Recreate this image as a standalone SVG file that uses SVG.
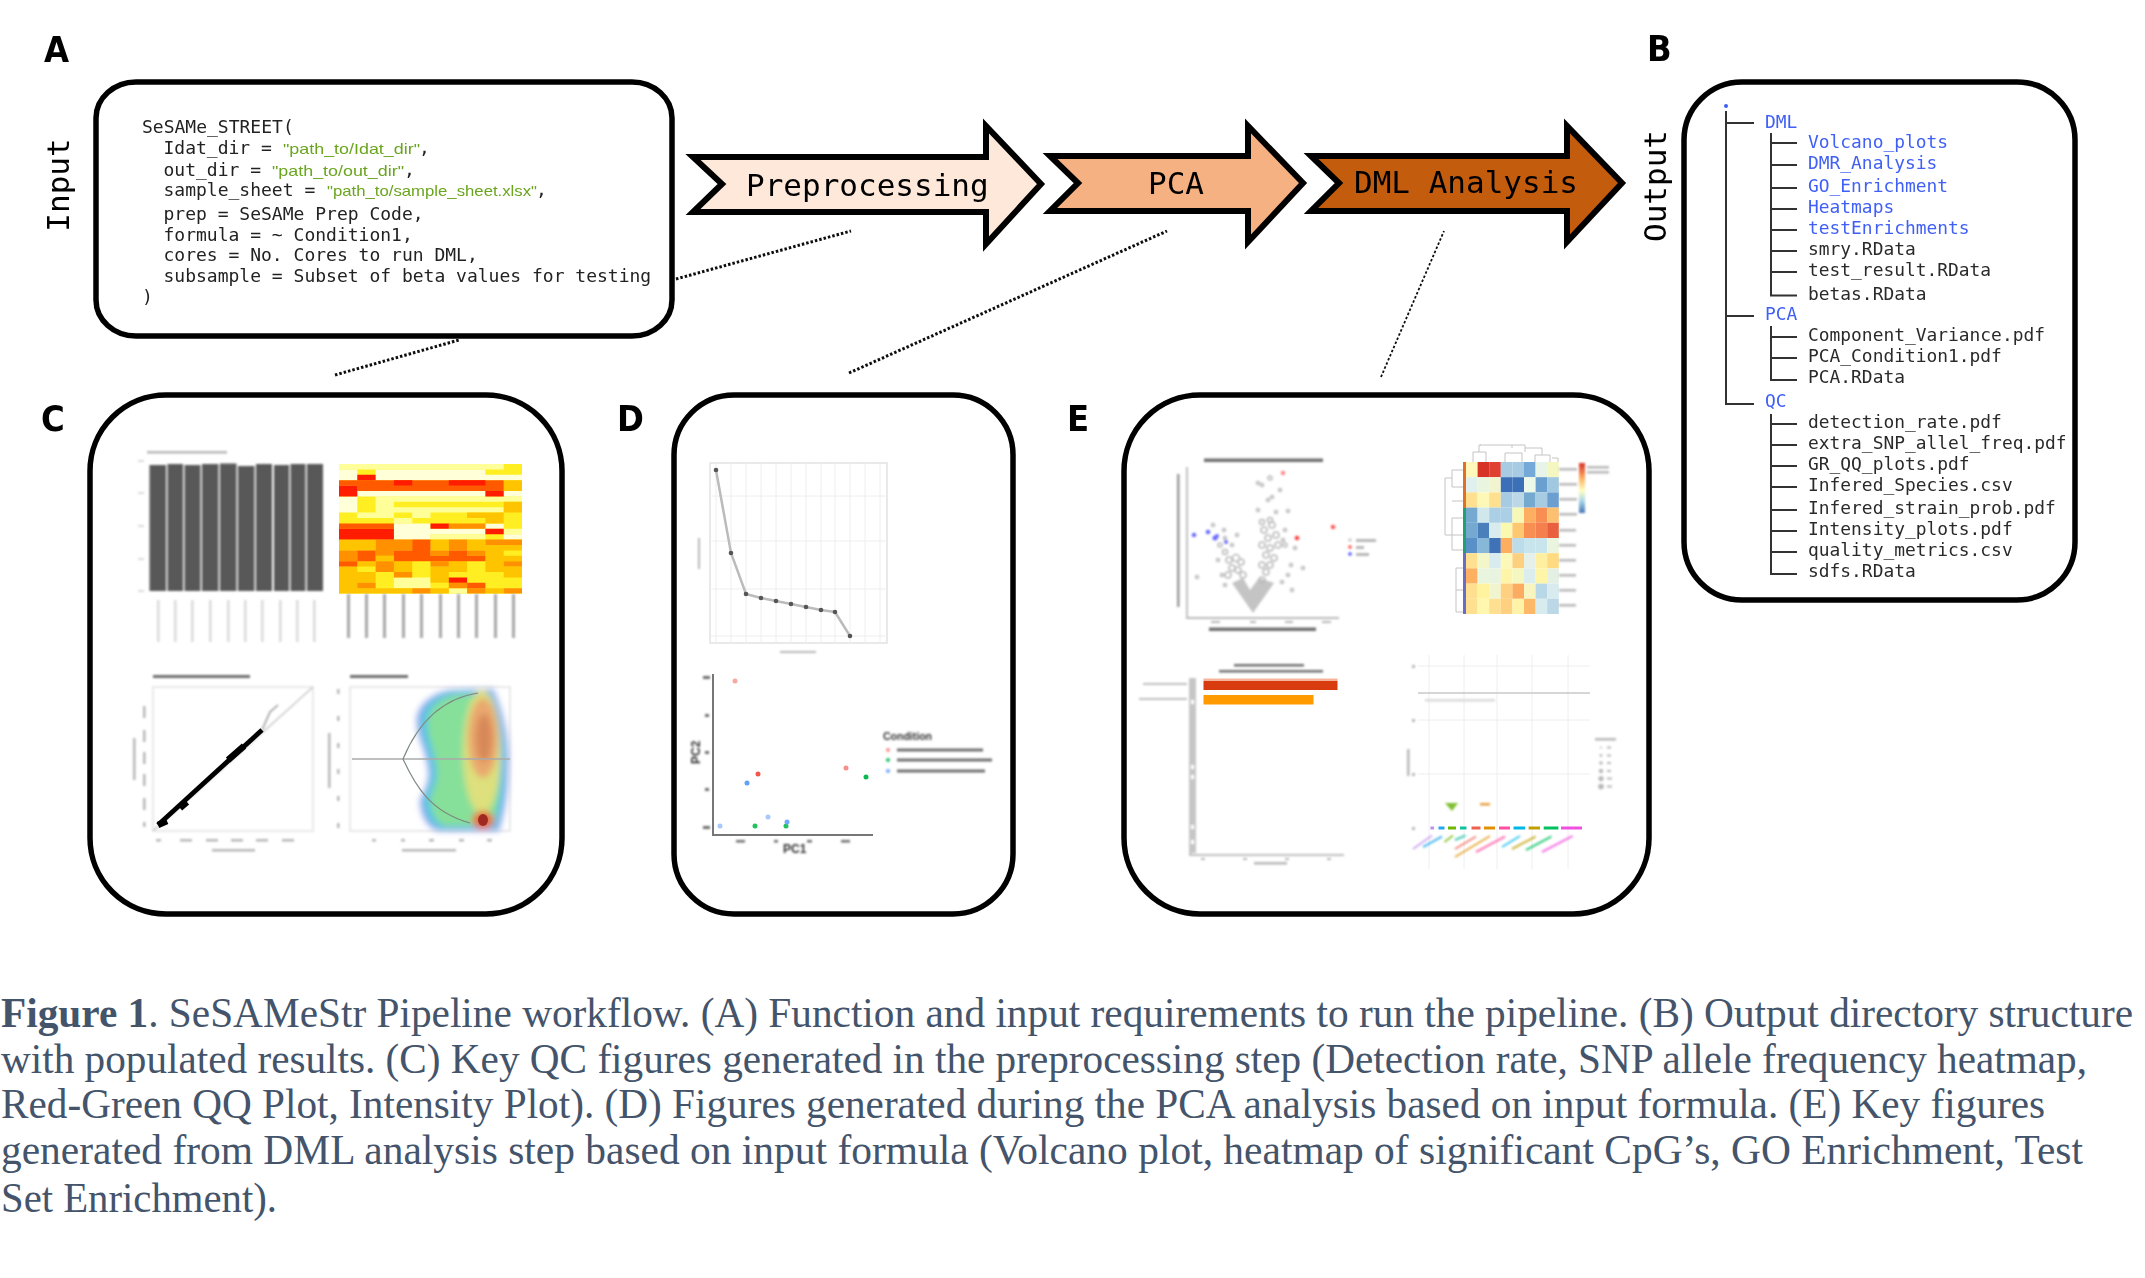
<svg xmlns="http://www.w3.org/2000/svg" xmlns:xlink="http://www.w3.org/1999/xlink" width="2145" height="1278" viewBox="0 0 2145 1278">
<style>
.box{fill:#fff;stroke:#000;stroke-width:5.5}
.arrow{stroke:#000;stroke-width:6;stroke-miterlimit:10}
.mono{font-family:"DejaVu Sans Mono","Liberation Mono",monospace}
.code{font-size:18px;fill:#222}
.green{font-family:"Liberation Sans",Arial,sans-serif;font-size:14.5px;fill:#6aa51f}
.tree{font-size:17.9px;fill:#2a2a2a}
.dir{font-size:17.9px;fill:#3f5ff5}
.big{font-size:31px;fill:#000}
.panel{font-family:"DejaVu Sans Condensed","DejaVu Sans",sans-serif;font-weight:bold;font-size:36px;fill:#000}
.cap{font-family:"Liberation Serif","Times New Roman",serif;font-size:42px;fill:#44546a}
.dash{fill:none;stroke:#111;stroke-width:3;stroke-dasharray:2.5 2}
.lg{fill:#b8b8b8}.ld{fill:#707070}.ll{fill:#dadada}
.grid{stroke:#eee;stroke-width:1;fill:none}
.frame{fill:none;stroke:#e2e2e2;stroke-width:1.5}
.sans{font-family:"Liberation Sans",Arial,sans-serif;fill:#333}
.vd{fill:none;stroke:#bbb;stroke-width:1.6}
</style>
<defs>
<filter id="b1" filterUnits="userSpaceOnUse" x="0" y="0" width="2145" height="1278"><feGaussianBlur stdDeviation="0.7"/></filter>
<filter id="b2" filterUnits="userSpaceOnUse" x="0" y="0" width="2145" height="1278"><feGaussianBlur stdDeviation="1.3"/></filter>
<filter id="b3" filterUnits="userSpaceOnUse" x="0" y="0" width="2145" height="1278"><feGaussianBlur stdDeviation="3"/></filter>
<linearGradient id="cb" x1="0" y1="0" x2="0" y2="1"><stop offset="0" stop-color="#d73027"/><stop offset=".3" stop-color="#fdae61"/><stop offset=".55" stop-color="#ffffbf"/><stop offset=".75" stop-color="#abd9e9"/><stop offset="1" stop-color="#4575b4"/></linearGradient>
<path id="dens" d="M417 717C420 700 440 690 455 690L493 689C503 710 510 740 508 770C508 800 502 820 499 831L440 831C428 830 420 815 420 800C425 790 430 780 428 769C425 745 415 735 417 717Z"/>
</defs>
<rect width="2145" height="1278" fill="#fff"/>

<g id="connectors" filter="url(#b1)">
<line class="dash" x1="676" y1="279" x2="851" y2="231"/>
<line class="dash" x1="335" y1="375" x2="459" y2="340"/>
<line class="dash" x1="849" y1="373" x2="1167" y2="231"/>
<line class="dash" style="stroke-width:1.8" x1="1381" y1="377" x2="1444" y2="231"/>
</g>

<g id="panel-labels" filter="url(#b1)">
<text class="panel" x="44" y="62">A</text>
<text class="panel" x="1647" y="61">B</text>
<text class="panel" x="41" y="431">C</text>
<text class="panel" x="617" y="431">D</text>
<text class="panel" x="1067" y="431">E</text>
<text class="mono big" transform="translate(69,185) rotate(-90)" text-anchor="middle">Input</text>
<text class="mono big" transform="translate(1666,186) rotate(-90)" text-anchor="middle">Output</text>
</g>

<g id="node-input" filter="url(#b1)">
<rect class="box" x="96" y="82" width="576" height="254" rx="40" ry="36"/>
<text class="mono code" x="142" y="133">SeSAMe_STREET(</text>
<text class="mono code" x="163.5" y="154">Idat_dir = </text><text class="green" x="283" y="154" textLength="137" lengthAdjust="spacingAndGlyphs">"path_to/Idat_dir"</text><text class="mono code" x="419" y="154">,</text>
<text class="mono code" x="163.5" y="176">out_dir = </text><text class="green" x="272" y="176" textLength="132" lengthAdjust="spacingAndGlyphs">"path_to/out_dir"</text><text class="mono code" x="404" y="176">,</text>
<text class="mono code" x="163.5" y="196">sample_sheet = </text><text class="green" x="327" y="196" textLength="210" lengthAdjust="spacingAndGlyphs">"path_to/sample_sheet.xlsx"</text><text class="mono code" x="536" y="196">,</text>
<text class="mono code" x="163.5" y="220">prep = SeSAMe Prep Code,</text>
<text class="mono code" x="163.5" y="241">formula = ~ Condition1,</text>
<text class="mono code" x="163.5" y="261">cores = No. Cores to run DML,</text>
<text class="mono code" x="163.5" y="282">subsample = Subset of beta values for testing</text>
<text class="mono code" x="142" y="303">)</text>
</g>

<g id="node-preprocessing" filter="url(#b1)">
<path class="arrow" fill="#fde8da" d="M693 157H986V126L1041 184L986 244V212H693L722 184Z"/>
<text class="mono big" x="746" y="196">Preprocessing</text>
</g>
<g id="node-pca" filter="url(#b1)">
<path class="arrow" fill="#f5b182" d="M1050 156H1248V126L1303 183L1248 242V211H1050L1078 183Z"/>
<text class="mono big" x="1148" y="194">PCA</text>
</g>
<g id="node-dml" filter="url(#b1)">
<path class="arrow" fill="#c45c10" d="M1311 156H1567V126L1622 183L1567 242V211H1311L1339 183Z"/>
<text class="mono big" x="1354" y="193">DML Analysis</text>
</g>

<g id="node-output" filter="url(#b1)">
<rect class="box" x="1684" y="82" width="391" height="518" rx="58" ry="58"/>
<circle cx="1726" cy="106" r="2" fill="#3f5ff5"/>
<path fill="none" stroke="#333" stroke-width="2" d="M1726 111V404H1754M1726 123H1754M1726 316H1754M1771 133V295.500H1797M1771 143H1797M1771 165H1797M1771 188H1797M1771 209H1797M1771 230H1797M1771 251H1797M1771 272H1797M1771 326V380H1797M1771 337H1797M1771 358H1797M1771 414V574H1797M1771 424H1797M1771 445H1797M1771 466H1797M1771 487H1797M1771 510H1797M1771 531H1797M1771 552H1797"/>
<text class="mono dir" x="1765" y="128">DML</text>
<text class="mono dir" x="1808" y="148">Volcano_plots</text>
<text class="mono dir" x="1808" y="169">DMR_Analysis</text>
<text class="mono dir" x="1808" y="192">GO_Enrichment</text>
<text class="mono dir" x="1808" y="213">Heatmaps</text>
<text class="mono dir" x="1808" y="234">testEnrichments</text>
<text class="mono tree" x="1808" y="255">smry.RData</text>
<text class="mono tree" x="1808" y="276">test_result.RData</text>
<text class="mono tree" x="1808" y="300">betas.RData</text>
<text class="mono dir" x="1765" y="320">PCA</text>
<text class="mono tree" x="1808" y="341">Component_Variance.pdf</text>
<text class="mono tree" x="1808" y="362">PCA_Condition1.pdf</text>
<text class="mono tree" x="1808" y="383">PCA.RData</text>
<text class="mono dir" x="1765" y="407">QC</text>
<text class="mono tree" x="1808" y="428">detection_rate.pdf</text>
<text class="mono tree" x="1808" y="449">extra_SNP_allel_freq.pdf</text>
<text class="mono tree" x="1808" y="470">GR_QQ_plots.pdf</text>
<text class="mono tree" x="1808" y="491">Infered_Species.csv</text>
<text class="mono tree" x="1808" y="514">Infered_strain_prob.pdf</text>
<text class="mono tree" x="1808" y="535">Intensity_plots.pdf</text>
<text class="mono tree" x="1808" y="556">quality_metrics.csv</text>
<text class="mono tree" x="1808" y="577">sdfs.RData</text>
</g>

<g id="node-preprocessing-figures">
<rect class="box" x="90" y="395" width="472" height="519" rx="76" ry="76" filter="url(#b1)"/>
<g filter="url(#b2)">
<rect class="lg" x="147" y="451" width="80" height="2.500"/>
<rect class="ll" x="138" y="460" width="6" height="2"/><rect class="ll" x="138" y="492" width="6" height="2"/><rect class="ll" x="138" y="525" width="6" height="2"/><rect class="ll" x="138" y="558" width="6" height="2"/><rect class="ll" x="138" y="590" width="6" height="2"/>
<g fill="#595959">
<rect x="149.500" y="465" width="16.500" height="126"/><rect x="167.500" y="464" width="15.500" height="127"/><rect x="184.500" y="465" width="16" height="126"/><rect x="202" y="464" width="16.500" height="127"/><rect x="220" y="463.500" width="16.500" height="127.500"/><rect x="238" y="466" width="16.500" height="125"/><rect x="256" y="464" width="16" height="127"/><rect x="274" y="465" width="15" height="126"/><rect x="290.500" y="464" width="15" height="127"/><rect x="307" y="464" width="16" height="127"/>
</g>
<g class="ll">
<rect x="157" y="600" width="2.500" height="42"/><rect x="174" y="600" width="2.500" height="42"/><rect x="191" y="600" width="2.500" height="42"/><rect x="209" y="600" width="2.500" height="42"/><rect x="227" y="600" width="2.500" height="42"/><rect x="244" y="600" width="2.500" height="42"/><rect x="261" y="600" width="2.500" height="42"/><rect x="279" y="600" width="2.500" height="42"/><rect x="296" y="600" width="2.500" height="42"/><rect x="313" y="600" width="2.500" height="42"/>
</g>
</g>
<g filter="url(#b1)">
<g transform="translate(339,464) scale(18.3,5.4)">
<rect width="10" height="24" fill="#ffef20"/>
<path fill="#ffff99" d="M0 0h9v1h-9zM2 6h8v1h-8zM2 7h1v1h-1zM2 8h7v1h-7zM1 9h2v1h-2zM4 9h1v1h-1zM3 10h1v1h-1zM5 13h3v1h-3zM9 12h1v1h-1zM3 21h2v1h-2zM3 22h2v1h-2zM6 23h1v1h-1z"/>
<path fill="#ffffd8" d="M0 1h1v1h-1zM2 1h6v1h-6zM0 2h1v1h-1zM2 2h8v1h-8zM1 5h7v1h-7zM9 5h1v1h-1zM0 6h1v2h-1zM0 8h1v1h-1zM3 11h2v1h-2zM8 11h1v1h-1zM3 12h5v1h-5zM3 13h2v1h-2zM9 13h1v1h-1z"/>
<path fill="#ffc400" d="M9 3h1v2h-1zM9 7h1v2h-1zM7 9h2v1h-2zM8 10h1v1h-1zM0 14h2v2h-2zM5 14h1v2h-1zM7 14h1v2h-1zM8 15h2v1h-2zM8 16h1v1h-1zM2 17h1v1h-1zM8 17h2v1h-2zM1 18h1v1h-1zM3 18h1v1h-1zM6 18h1v1h-1zM8 18h1v1h-1zM0 19h1v1h-1zM3 19h1v1h-1zM5 19h2v1h-2zM8 19h2v1h-2zM0 20h2v1h-2zM5 20h1v1h-1zM9 20h1v1h-1zM0 21h2v1h-2zM5 21h1v1h-1zM0 22h1v1h-1zM0 23h4v1h-4zM5 23h1v1h-1zM8 23h1v1h-1z"/>
<path fill="#ff9000" d="M6 11h2v1h-2zM2 14h2v2h-2zM6 14h1v2h-1zM8 14h2v1h-2zM0 16h1v2h-1zM2 16h1v1h-1zM5 16h1v1h-1zM7 16h1v1h-1zM2 18h1v2h-1zM5 18h1v1h-1zM9 18h1v1h-1zM3 20h1v1h-1zM1 22h1v1h-1zM6 22h1v1h-1zM4 23h1v1h-1zM7 23h1v1h-1zM9 23h1v1h-1z"/>
<path fill="#ff5a00" d="M0 3h9v1h-9zM1 4h8v1h-8zM0 11h3v1h-3zM4 14h1v2h-1zM1 16h1v2h-1zM3 16h2v1h-2zM6 16h1v1h-1zM3 17h5v1h-5zM0 18h1v1h-1zM7 22h1v1h-1z"/>
<path fill="#ff1a00" d="M1 2h1v1h-1zM3 3h1v1h-1zM6 3h2v1h-2zM0 4h1v2h-1zM8 5h1v1h-1zM5 11h1v1h-1zM0 12h3v2h-3zM8 12h1v1h-1zM6 21h1v1h-1z"/>
</g>
</g>
<g filter="url(#b2)">
<g fill="#a8a8a8"><rect x="347" y="594" width="3" height="44"/><rect x="365" y="594" width="3" height="44"/><rect x="383" y="594" width="3" height="44"/><rect x="402" y="594" width="3" height="44"/><rect x="420" y="594" width="3" height="44"/><rect x="439" y="594" width="3" height="44"/><rect x="457" y="594" width="3" height="44"/><rect x="475" y="594" width="3" height="44"/><rect x="494" y="594" width="3" height="44"/><rect x="512" y="594" width="3" height="44"/></g>
<rect class="ld" x="153" y="675" width="97" height="3"/>
<rect class="frame" x="153" y="687" width="160" height="144"/>
<line x1="153" y1="831" x2="313" y2="687" stroke="#c8c8c8" stroke-width="1.500"/>
<path d="M262 730L270 712L278 705" stroke="#999" stroke-width="1.500" fill="none"/>
<g class="lg"><rect x="156" y="839" width="5" height="2.500"/><rect x="180" y="839" width="12" height="2.500"/><rect x="206" y="839" width="12" height="2.500"/><rect x="231" y="839" width="12" height="2.500"/><rect x="256" y="839" width="12" height="2.500"/><rect x="282" y="839" width="12" height="2.500"/>
<rect x="212" y="849" width="43" height="2.500"/><rect x="133" y="738" width="2.500" height="42"/>
<rect x="143" y="706" width="2.500" height="12"/><rect x="143" y="730" width="2.500" height="12"/><rect x="143" y="752" width="2.500" height="12"/><rect x="143" y="774" width="2.500" height="12"/><rect x="143" y="798" width="2.500" height="12"/><rect x="143" y="822" width="2.500" height="5"/></g>
<rect class="ld" x="350" y="675" width="58" height="3"/>
<rect class="frame" x="350" y="687" width="160" height="144"/>
</g>
<g filter="url(#b1)">
<path d="M158 825L262 730" stroke="#000" stroke-width="4.800" fill="none"/>
<path d="M158 825L167 821M180 808L187 802M228 760L244 746" stroke="#000" stroke-width="6.500" fill="none"/>
</g>
<g filter="url(#b3)">
<use href="#dens" fill="#939feb"/>
<use href="#dens" fill="#58c6e4" transform="translate(465 760) scale(.93 .97) translate(-465 -760)"/>
<use href="#dens" fill="#86e09a" transform="translate(470 760) scale(.8 .93) translate(-470 -760)"/>
<ellipse cx="482" cy="752" rx="19" ry="62" fill="#dde07c"/>
<ellipse cx="483" cy="738" rx="15" ry="40" fill="#e9a86e"/>
<ellipse cx="484" cy="738" rx="8" ry="24" fill="#d88858"/>
<ellipse cx="483" cy="820" rx="11" ry="9" fill="#e8703c"/>
</g>
<g filter="url(#b1)">
<ellipse cx="483" cy="820" rx="5" ry="6" fill="#a02c20"/>
<line x1="352" y1="759" x2="510" y2="759" stroke="#aaa" stroke-width="1.500"/>
<path d="M478 693C445 698 420 718 403 759C415 785 430 812 470 823" fill="none" stroke="#7d8a80" stroke-width="1.200"/>
</g>
<g class="lg" filter="url(#b2)"><rect x="337" y="689" width="2.500" height="5"/><rect x="337" y="716" width="2.500" height="5"/><rect x="337" y="743" width="2.500" height="5"/><rect x="337" y="769" width="2.500" height="5"/><rect x="337" y="796" width="2.500" height="5"/><rect x="337" y="823" width="2.500" height="5"/>
<rect x="372" y="839" width="4" height="2.500"/><rect x="401" y="839" width="4" height="2.500"/><rect x="429" y="839" width="5" height="2.500"/><rect x="459" y="839" width="5" height="2.500"/><rect x="487" y="839" width="5" height="2.500"/>
<rect x="402" y="849" width="54" height="2.500"/><rect x="328" y="733" width="2.500" height="55"/></g>
</g>

<g id="node-pca-figures">
<rect class="box" x="674" y="395" width="339" height="519" rx="60" ry="60" filter="url(#b1)"/>
<g filter="url(#b1)">
<rect class="frame" x="710" y="463" width="177" height="180"/>
<path class="grid" d="M716 463V643M731 463V643M746 463V643M761 463V643M776 463V643M791 463V643M806 463V643M821 463V643M835 463V643M850 463V643M865 463V643M880 463V643M710 496H887M710 541H887M710 589H887M710 636H887"/>
<polyline points="716,470 731,553 746,594 761,598 776,601 791,604 806,607 821,610 835,612 850,636" fill="none" stroke="#bbb" stroke-width="2.500"/>
<g fill="#555"><circle cx="716" cy="470" r="2.300"/><circle cx="731" cy="553" r="2.300"/><circle cx="746" cy="594" r="2.300"/><circle cx="761" cy="598" r="2.300"/><circle cx="776" cy="601" r="2.300"/><circle cx="791" cy="604" r="2.300"/><circle cx="806" cy="607" r="2.300"/><circle cx="821" cy="610" r="2.300"/><circle cx="835" cy="612" r="2.300"/><circle cx="850" cy="636" r="2.300"/></g>
<path d="M713 674V835H873" fill="none" stroke="#777" stroke-width="2"/>
<g><circle cx="735" cy="681" r="2.500" fill="#f8a8a0"/><circle cx="758" cy="774" r="2.500" fill="#f0584c"/><circle cx="846" cy="768" r="2.500" fill="#f8908a"/><circle cx="866" cy="777" r="2.500" fill="#10b850"/><circle cx="755" cy="826" r="2.500" fill="#20c060"/><circle cx="786" cy="826" r="2.500" fill="#20c060"/><circle cx="747" cy="783" r="2.500" fill="#60a0ff"/><circle cx="720" cy="826" r="2.500" fill="#a8c8ff"/><circle cx="768" cy="817" r="2.500" fill="#a8c8ff"/><circle cx="787" cy="822" r="2.500" fill="#70a8ff"/></g>
</g>
<g filter="url(#b2)">
<rect class="lg" x="780" y="651" width="36" height="2"/><rect class="lg" x="698" y="538" width="2" height="31"/>
<text class="sans" x="883" y="740" font-size="10.500" font-weight="bold">Condition</text>
<text class="sans" x="783" y="853" font-size="12" font-weight="bold">PC1</text>
<text class="sans" font-size="12" font-weight="bold" transform="translate(700,764) rotate(-90)">PC2</text>
<g class="ld"><rect x="897" y="748.500" width="86" height="3"/><rect x="897" y="758.500" width="95" height="3"/><rect x="897" y="769.500" width="88" height="3"/>
<rect x="703" y="676" width="7" height="3"/><rect x="705" y="714" width="4" height="3"/><rect x="705" y="751" width="4" height="3"/><rect x="705" y="788" width="4" height="3"/><rect x="703" y="826" width="7" height="3"/><rect x="736" y="840" width="9" height="2.500"/><rect x="774" y="840" width="4" height="2.500"/><rect x="807" y="840" width="5" height="2.500"/><rect x="841" y="840" width="9" height="2.500"/></g>
<circle cx="888" cy="750" r="2" fill="#f8908a"/><circle cx="888" cy="760" r="2" fill="#20c060"/><circle cx="888" cy="771" r="2" fill="#70a8ff"/>
</g>
</g>

<g id="node-dml-figures">
<rect class="box" x="1124" y="395" width="525" height="519" rx="76" ry="76" filter="url(#b1)"/>
<g filter="url(#b2)">
<rect class="ld" x="1204" y="458.500" width="119" height="3.500"/>
<rect class="ld" x="1209" y="627.500" width="107" height="3.500"/>
<rect x="1177" y="474" width="2.500" height="133" fill="#999"/>
<path d="M1187 467V618H1339" fill="none" stroke="#bbb" stroke-width="1.800"/>
<path fill="#c4c4c4" d="M1232 583L1253 613L1274 583L1259 578L1250 590L1243 578Z"/>
<g class="vd" stroke-width="2.200">
<circle cx="1228" cy="575" r="3"/><circle cx="1232" cy="568" r="3"/><circle cx="1238" cy="570" r="3"/><circle cx="1241" cy="562" r="3"/><circle cx="1236" cy="558" r="3.500"/><circle cx="1229" cy="560" r="3"/><circle cx="1225" cy="552" r="2.500"/><circle cx="1220" cy="545" r="2"/><circle cx="1243" cy="575" r="3"/><circle cx="1262" cy="580" r="3"/><circle cx="1266" cy="572" r="3"/><circle cx="1270" cy="565" r="3"/><circle cx="1262" cy="565" r="3"/><circle cx="1274" cy="558" r="3"/><circle cx="1266" cy="555" r="3"/><circle cx="1270" cy="548" r="3"/><circle cx="1278" cy="545" r="3"/><circle cx="1262" cy="545" r="3"/><circle cx="1268" cy="538" r="3"/><circle cx="1276" cy="535" r="3"/><circle cx="1264" cy="530" r="3"/><circle cx="1272" cy="525" r="3"/><circle cx="1262" cy="522" r="2.500"/><circle cx="1270" cy="520" r="2.500"/>
</g>
<g class="vd">
<circle cx="1218" cy="560" r="1.500"/><circle cx="1222" cy="575" r="1.500"/><circle cx="1225" cy="585" r="1.500"/><circle cx="1232" cy="545" r="1.500"/><circle cx="1213" cy="525" r="1.500"/><circle cx="1224" cy="530" r="1.500"/><circle cx="1197" cy="577" r="1.500"/><circle cx="1292" cy="590" r="1.500"/><circle cx="1303" cy="568" r="1.500"/><circle cx="1291" cy="565" r="1.500"/><circle cx="1288" cy="575" r="1.500"/><circle cx="1282" cy="582" r="1.500"/><circle cx="1285" cy="545" r="2"/><circle cx="1283" cy="540" r="1.500"/><circle cx="1285" cy="530" r="1.500"/><circle cx="1258" cy="510" r="1.500"/><circle cx="1262" cy="485" r="1.500"/><circle cx="1270" cy="478" r="2"/><circle cx="1258" cy="483" r="1.500"/><circle cx="1272" cy="497" r="1.500"/><circle cx="1280" cy="490" r="1.500"/><circle cx="1268" cy="500" r="1.500"/><circle cx="1276" cy="512" r="1.500"/><circle cx="1288" cy="511" r="1.500"/><circle cx="1295" cy="548" r="1.500"/><circle cx="1237" cy="535" r="1.500"/><circle cx="1225" cy="538" r="1.500"/>
</g>
<circle cx="1283" cy="473" r="2.300" fill="#ff8a8a"/><circle cx="1333" cy="527" r="2.300" fill="#ff5a5a"/><circle cx="1297" cy="538" r="2.300" fill="#ff4040"/>
<g fill="#6a6aff"><circle cx="1194" cy="535" r="2.300"/><circle cx="1208" cy="532" r="2.300"/><circle cx="1215" cy="538" r="2.500"/><circle cx="1217" cy="536" r="2"/><circle cx="1226" cy="542" r="2"/></g>
<circle cx="1350" cy="540" r="1.800" fill="#ccc"/><circle cx="1350" cy="547" r="1.800" fill="#ff5050"/><circle cx="1350" cy="554" r="1.800" fill="#5050ff"/>
<g class="lg"><rect x="1356" y="539" width="20" height="3"/><rect x="1356" y="546" width="8" height="3"/><rect x="1356" y="553" width="13" height="3"/>
<rect x="1211" y="621" width="9" height="2"/><rect x="1250" y="621" width="6" height="2"/><rect x="1285" y="621" width="8" height="2"/><rect x="1322" y="621" width="9" height="2"/></g>
</g>
<g filter="url(#b1)">
<rect x="1463" y="462" width="3" height="46" fill="#e07020"/><rect x="1463" y="508" width="3" height="45" fill="#20a070"/><rect x="1463" y="553" width="3" height="61" fill="#6a6ac8"/>
<g transform="translate(1466,462) scale(11.6,15.2)">
<rect x="0" y="0" width="1" height="1" fill="#fff7bc"/><rect x="1" y="0" width="1" height="1" fill="#d73027"/><rect x="2" y="0" width="1" height="1" fill="#e04030"/><rect x="3" y="0" width="1" height="1" fill="#a6cbe3"/><rect x="4" y="0" width="1" height="1" fill="#a6cbe3"/><rect x="5" y="0" width="1" height="1" fill="#74a9d8"/><rect x="6" y="0" width="1" height="1" fill="#e8f4e8"/><rect x="7" y="0" width="1" height="1" fill="#f5f7c0"/>
<rect x="0" y="1" width="1" height="1" fill="#e0f0ee"/><rect x="1" y="1" width="1" height="1" fill="#eaf5e0"/><rect x="2" y="1" width="1" height="1" fill="#f0f5d0"/><rect x="3" y="1" width="1" height="1" fill="#3a70b8"/><rect x="4" y="1" width="1" height="1" fill="#3a70b8"/><rect x="5" y="1" width="1" height="1" fill="#eef8e8"/><rect x="6" y="1" width="1" height="1" fill="#6a9fd0"/><rect x="7" y="1" width="1" height="1" fill="#a0c8e0"/>
<rect x="0" y="2" width="1" height="1" fill="#fee090"/><rect x="1" y="2" width="1" height="1" fill="#fdf7b8"/><rect x="2" y="2" width="1" height="1" fill="#fee08f"/><rect x="3" y="2" width="1" height="1" fill="#a6cbe3"/><rect x="4" y="2" width="1" height="1" fill="#bcd8e6"/><rect x="5" y="2" width="1" height="1" fill="#74a9d0"/><rect x="6" y="2" width="1" height="1" fill="#a6cbe3"/><rect x="7" y="2" width="1" height="1" fill="#6a9fd0"/>
<rect x="0" y="3" width="1" height="1" fill="#74a9cf"/><rect x="1" y="3" width="1" height="1" fill="#d0e8ec"/><rect x="2" y="3" width="1" height="1" fill="#abd0e6"/><rect x="3" y="3" width="1" height="1" fill="#abd0e6"/><rect x="4" y="3" width="1" height="1" fill="#f7f7b8"/><rect x="5" y="3" width="1" height="1" fill="#fdae61"/><rect x="6" y="3" width="1" height="1" fill="#f98e52"/><rect x="7" y="3" width="1" height="1" fill="#fdc070"/>
<rect x="0" y="4" width="1" height="1" fill="#74a9cf"/><rect x="1" y="4" width="1" height="1" fill="#4a80bc"/><rect x="2" y="4" width="1" height="1" fill="#d8ecf0"/><rect x="3" y="4" width="1" height="1" fill="#fbf8b0"/><rect x="4" y="4" width="1" height="1" fill="#fdc870"/><rect x="5" y="4" width="1" height="1" fill="#f98e52"/><rect x="6" y="4" width="1" height="1" fill="#f47f4f"/><rect x="7" y="4" width="1" height="1" fill="#e8603c"/>
<rect x="0" y="5" width="1" height="1" fill="#5a90c8"/><rect x="1" y="5" width="1" height="1" fill="#88b8d8"/><rect x="2" y="5" width="1" height="1" fill="#3f72b8"/><rect x="3" y="5" width="1" height="1" fill="#fdae61"/><rect x="4" y="5" width="1" height="1" fill="#bcdcea"/><rect x="5" y="5" width="1" height="1" fill="#c8e4ec"/><rect x="6" y="5" width="1" height="1" fill="#c8e4ec"/><rect x="7" y="5" width="1" height="1" fill="#eaf5e0"/>
<rect x="0" y="6" width="1" height="1" fill="#fee090"/><rect x="1" y="6" width="1" height="1" fill="#f3f6c8"/><rect x="2" y="6" width="1" height="1" fill="#d8ecf0"/><rect x="3" y="6" width="1" height="1" fill="#fbf8b8"/><rect x="4" y="6" width="1" height="1" fill="#fdd080"/><rect x="5" y="6" width="1" height="1" fill="#e4f0e8"/><rect x="6" y="6" width="1" height="1" fill="#fef0a0"/><rect x="7" y="6" width="1" height="1" fill="#fedb80"/>
<rect x="0" y="7" width="1" height="1" fill="#fdb060"/><rect x="1" y="7" width="1" height="1" fill="#eaf5e0"/><rect x="2" y="7" width="1" height="1" fill="#e8f3e0"/><rect x="3" y="7" width="1" height="1" fill="#fff5a8"/><rect x="4" y="7" width="1" height="1" fill="#f5f7c0"/><rect x="5" y="7" width="1" height="1" fill="#dcedee"/><rect x="6" y="7" width="1" height="1" fill="#fff5a8"/><rect x="7" y="7" width="1" height="1" fill="#e4f0e4"/>
<rect x="0" y="8" width="1" height="1" fill="#fee090"/><rect x="1" y="8" width="1" height="1" fill="#fff3a0"/><rect x="2" y="8" width="1" height="1" fill="#f0f5d0"/><rect x="3" y="8" width="1" height="1" fill="#fed080"/><rect x="4" y="8" width="1" height="1" fill="#fcac60"/><rect x="5" y="8" width="1" height="1" fill="#f8f5c0"/><rect x="6" y="8" width="1" height="1" fill="#b8d8e8"/><rect x="7" y="8" width="1" height="1" fill="#d8ecf0"/>
<rect x="0" y="9" width="1" height="1" fill="#fee090"/><rect x="1" y="9" width="1" height="1" fill="#fff7b0"/><rect x="2" y="9" width="1" height="1" fill="#fee090"/><rect x="3" y="9" width="1" height="1" fill="#fed080"/><rect x="4" y="9" width="1" height="1" fill="#fff3a8"/><rect x="5" y="9" width="1" height="1" fill="#fdb868"/><rect x="6" y="9" width="1" height="1" fill="#d8ecf0"/><rect x="7" y="9" width="1" height="1" fill="#bcd8e6"/>
</g>
<path fill="none" stroke="#c4c4c4" stroke-width="1" d="M1473 462V452H1486V462M1479 452V445H1525V452M1480 445H1481M1512 445V448M1505 462V453H1522V462M1535 462V455H1550V462M1542 455V448H1525M1552 458H1558V462M1452 470H1463M1452 470V487M1452 487H1463M1452 501H1463M1452 478H1445V535H1452M1452 518V550M1452 518H1463M1452 535H1463M1452 550H1463M1456 568V612M1456 568H1463M1456 590H1463M1456 612H1463"/>
</g>
<g filter="url(#b2)">
<g class="lg"><rect x="1559" y="468" width="18" height="2.500"/><rect x="1559" y="483" width="18" height="2.500"/><rect x="1559" y="498" width="18" height="2.500"/><rect x="1559" y="513" width="18" height="2.500"/><rect x="1559" y="529" width="17" height="2.500"/><rect x="1559" y="544" width="17" height="2.500"/><rect x="1559" y="559" width="17" height="2.500"/><rect x="1559" y="574" width="17" height="2.500"/><rect x="1559" y="589" width="17" height="2.500"/><rect x="1559" y="604" width="17" height="2.500"/>
<rect x="1587" y="466" width="22" height="2.500"/><rect x="1587" y="471" width="22" height="2.500"/></g>
<rect x="1579" y="463" width="6" height="50" fill="url(#cb)"/>
<rect class="ld" x="1234" y="664" width="70" height="2.500"/><rect class="ld" x="1219" y="670" width="104" height="2.500"/>
<rect class="lg" x="1143" y="683" width="44" height="1.800"/><rect class="lg" x="1139" y="698" width="48" height="1.800"/>
<path d="M1190 678V855H1344" fill="none" stroke="#aaa" stroke-width="1.500"/>
<rect x="1189" y="678" width="7" height="175" fill="#c6c6c6"/>
<rect x="1191" y="700" width="3" height="4" fill="#fff"/><rect x="1191" y="765" width="3" height="4" fill="#fff"/><rect x="1191" y="775" width="3" height="4" fill="#fff"/><rect x="1191" y="825" width="3" height="4" fill="#fff"/><rect x="1191" y="840" width="3" height="4" fill="#fff"/>
<g class="lg"><rect x="1201" y="858" width="4" height="2"/><rect x="1243" y="858" width="4" height="2"/><rect x="1285" y="858" width="4" height="2"/><rect x="1327" y="858" width="4" height="2"/></g>
<rect class="lg" x="1254" y="862" width="33" height="2.500"/>
</g>
<g filter="url(#b1)">
<rect x="1203.500" y="681" width="134" height="9" fill="#d83a08"/><rect x="1203.500" y="678.500" width="134" height="2.500" fill="#f6b59a"/>
<rect x="1203.500" y="695" width="110" height="9.500" fill="#ff9a00"/>
</g>
<g filter="url(#b1)">
<path class="grid" d="M1429 655V869M1464 655V869M1497 655V869M1532 655V869M1568 655V869M1418 666H1590M1418 720H1590M1418 774H1590"/>
<line x1="1418" y1="693" x2="1590" y2="693" stroke="#c8c8c8" stroke-width="1.500"/>
</g>
<g filter="url(#b2)">
<rect class="ll" x="1425" y="699" width="70" height="2.500"/>
<g class="lg"><rect x="1412" y="665" width="3" height="3"/><rect x="1412" y="719" width="3" height="3"/><rect x="1412" y="773" width="3" height="3"/><rect x="1412" y="827" width="3" height="3"/><rect x="1407" y="749" width="2.500" height="27"/>
<rect x="1595" y="738" width="21" height="2.500"/></g>
<path d="M1445 803H1458L1452 811Z" fill="#80c030"/>
<rect x="1480" y="803" width="10" height="2.500" fill="#e8a040"/>
<g class="lg"><circle cx="1601" cy="747.600" r="1"/><circle cx="1601" cy="755.500" r="1.400"/><circle cx="1601" cy="763" r="1.800"/><circle cx="1601" cy="771" r="2.200"/><circle cx="1601" cy="778.600" r="2.600"/><circle cx="1601" cy="786.600" r="2.800"/><rect x="1607" y="746.500" width="4" height="2"/><rect x="1607" y="754.500" width="4" height="2"/><rect x="1607" y="762" width="4" height="2"/><rect x="1607" y="770" width="4" height="2"/><rect x="1607" y="777.500" width="5" height="2"/><rect x="1607" y="785.500" width="5" height="2"/></g>
</g>
<g filter="url(#b1)" stroke-width="3" fill="none">
<line stroke="#c090f0" x1="1430.400" y1="828" x2="1434" y2="828"/><line stroke="#20a8f0" x1="1438.500" y1="828" x2="1444.500" y2="828"/><line stroke="#70b800" x1="1448" y1="828" x2="1456" y2="828"/><line stroke="#10c0a0" x1="1460" y1="828" x2="1466.500" y2="828"/><line stroke="#f06050" x1="1471.500" y1="828" x2="1480.500" y2="828"/><line stroke="#e09000" x1="1484" y1="828" x2="1495" y2="828"/><line stroke="#ff50a0" x1="1499" y1="828" x2="1510" y2="828"/><line stroke="#00b8e8" x1="1513.500" y1="828" x2="1525" y2="828"/><line stroke="#c0a000" x1="1528.600" y1="828" x2="1540" y2="828"/><line stroke="#00c060" x1="1543.700" y1="828" x2="1558.400" y2="828"/><line stroke="#f050e0" x1="1561" y1="828" x2="1582" y2="828"/>
</g>
<g filter="url(#b2)" stroke-width="2" fill="none" opacity=".75">
<line stroke="#c090f0" x1="1413" y1="849" x2="1432" y2="835.500"/><line stroke="#20a8f0" x1="1423" y1="847" x2="1442" y2="836.500"/><line stroke="#70b800" x1="1444.500" y1="842" x2="1453" y2="835.500"/><line stroke="#10c0a0" x1="1455" y1="840" x2="1465.500" y2="835.500"/><line stroke="#f06050" x1="1455" y1="849" x2="1476" y2="836.500"/><line stroke="#e09000" x1="1455" y1="857" x2="1490" y2="836"/><line stroke="#ff50a0" x1="1476" y1="852" x2="1505" y2="836.500"/><line stroke="#00b8e8" x1="1502" y1="847" x2="1520" y2="836"/><line stroke="#c0a000" x1="1512" y1="849" x2="1535.600" y2="836.500"/><line stroke="#00c060" x1="1526" y1="850" x2="1551.400" y2="836.500"/><line stroke="#f050e0" x1="1542" y1="852" x2="1572.500" y2="836"/>
</g>
</g>

<g id="caption">
<text class="cap" x="1" y="1027" textLength="2132" lengthAdjust="spacingAndGlyphs"><tspan font-weight="bold">Figure 1</tspan>. SeSAMeStr Pipeline workflow. (A) Function and input requirements to run the pipeline. (B) Output directory structure</text>
<text class="cap" x="1" y="1073" textLength="2086" lengthAdjust="spacingAndGlyphs">with populated results. (C) Key QC figures generated in the preprocessing step (Detection rate, SNP allele frequency heatmap,</text>
<text class="cap" x="1" y="1118" textLength="2044" lengthAdjust="spacingAndGlyphs">Red-Green QQ Plot, Intensity Plot). (D) Figures generated during the PCA analysis based on input formula. (E) Key figures</text>
<text class="cap" x="1" y="1164" textLength="2082" lengthAdjust="spacingAndGlyphs">generated from DML analysis step based on input formula (Volcano plot, heatmap of significant CpG’s, GO Enrichment, Test</text>
<text class="cap" x="1" y="1212" textLength="276" lengthAdjust="spacingAndGlyphs">Set Enrichment).</text>
</g>
</svg>
